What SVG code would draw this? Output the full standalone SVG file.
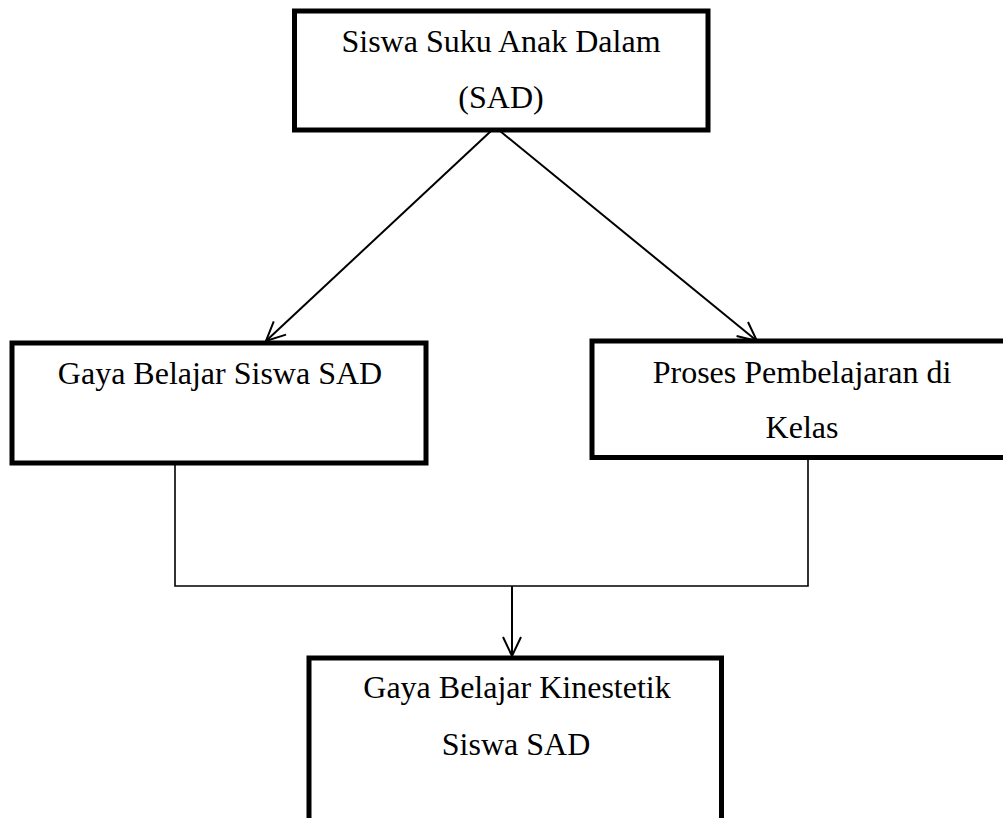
<svg xmlns="http://www.w3.org/2000/svg" width="1003" height="818" viewBox="0 0 1003 818">
<style>
.box{fill:#fff;stroke:#000;stroke-width:5}
.t{font-family:"Liberation Serif","Times New Roman",serif;font-size:32px;fill:#000;text-anchor:middle}
.c{fill:none;stroke:#000;stroke-width:1.6}
.d{fill:none;stroke:#000;stroke-width:2}
</style>
<defs>
<marker id="ah" markerUnits="userSpaceOnUse" markerWidth="26" markerHeight="24" viewBox="-22 -12 24 24" refX="0" refY="0" orient="auto">
<path d="M-19,-9 L0,0 L-19,9" fill="none" stroke="#000" stroke-width="2"/>
</marker>
</defs>
<rect width="1003" height="818" fill="#fff"/>
<g id="connectors">
<line class="d" x1="491" y1="131" x2="266" y2="341" marker-end="url(#ah)"/>
<line class="d" x1="500" y1="131" x2="757" y2="341" marker-end="url(#ah)"/>
<polyline class="c" points="175,463 175,586 808,586 808,460"/>
<line class="d" x1="512" y1="586" x2="512" y2="656" marker-end="url(#ah)"/>
</g>
<g id="node-sad">
<rect class="box" x="294.5" y="11" width="413.5" height="119"/>
<text class="t" x="501" y="52">Siswa Suku Anak Dalam</text>
<text class="t" x="501" y="108">(SAD)</text>
</g>
<g id="node-gaya">
<rect class="box" x="12" y="343" width="414" height="120"/>
<text class="t" x="220" y="384">Gaya Belajar Siswa SAD</text>
</g>
<g id="node-proses">
<rect class="box" x="592" y="341" width="420" height="116.5"/>
<text class="t" x="802" y="383">Proses Pembelajaran di</text>
<text class="t" x="802" y="438">Kelas</text>
</g>
<g id="node-kinestetik">
<rect class="box" x="309" y="658" width="412.5" height="180"/>
<text class="t" x="517" y="698">Gaya Belajar Kinestetik</text>
<text class="t" x="516" y="755">Siswa SAD</text>
</g>
</svg>
